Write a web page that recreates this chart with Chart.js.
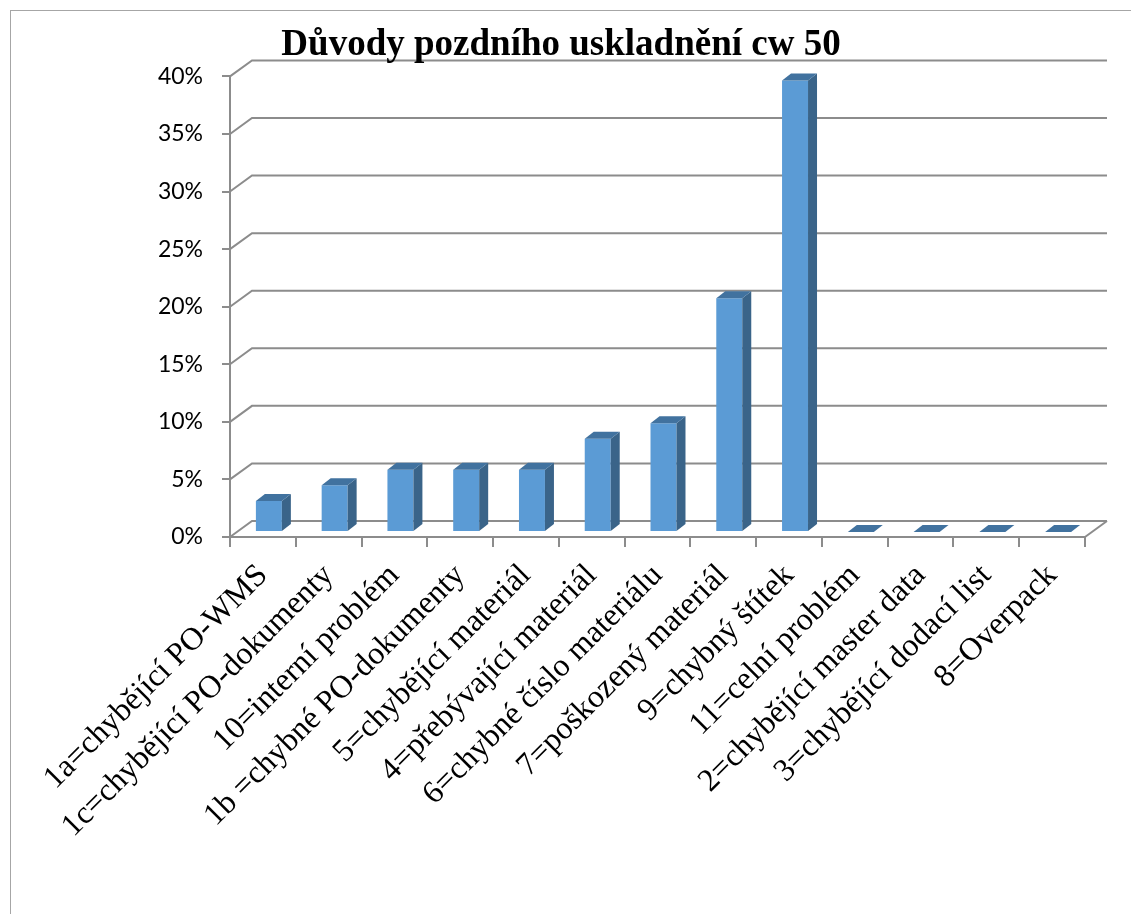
<!DOCTYPE html>
<html><head><meta charset="utf-8">
<script src="https://cdn.jsdelivr.net/npm/chart.js@4/dist/chart.umd.min.js"></script>
<style>
html,body{margin:0;padding:0;background:#fff;overflow:hidden;}
#wrap{position:relative;width:1131px;height:914px;}
#frame{position:absolute;left:10px;top:10px;width:1200px;height:1000px;border:1.5px solid #a6a6a6;}
canvas{position:absolute;left:0;top:0;}
</style></head><body>
<div id="wrap"><div id="frame"></div><canvas id="c" width="1131" height="914"></canvas></div>
<script>
const chartTitle = 'Důvody pozdního uskladnění cw 50';
const categories = [
  '1a=chybějící PO-WMS',
  '1c=chybějící PO-dokumenty',
  '10=interní problém',
  '1b =chybné PO-dokumenty',
  '5=chybějící materiál',
  '4=přebývající materiál',
  '6=chybné číslo materiálu',
  '7=poškozený materiál',
  '9=chybný štítek',
  '11=celní problém',
  '2=chybějící master data',
  '3=chybějící dodací list',
  '8=Overpack'
];
const shareValues = [2.7, 4.05, 5.4, 5.4, 5.4, 8.1, 9.45, 20.3, 39.2, 0, 0, 0, 0];
const yTickLabels = ['0%', '5%', '10%', '15%', '20%', '25%', '30%', '35%', '40%'];

const WALL = {dx: 22, dy: -16};
const SHIFT = {dx: 6, dy: -5};
const DEPTH = {dx: 9, dy: -7};

const threeD = {
  id: 'threeD',
  beforeDraw(chart) {
    const {ctx, chartArea: a, scales: {y}} = chart;
    ctx.save();
    ctx.strokeStyle = '#8c8c8c';
    ctx.lineWidth = 2;
    y.ticks.forEach(t => {
      const py = y.getPixelForValue(t.value);
      ctx.beginPath();
      ctx.moveTo(a.left, py);
      ctx.lineTo(a.left + WALL.dx, py + WALL.dy);
      ctx.lineTo(a.right + WALL.dx, py + WALL.dy);
      ctx.stroke();
    });
    ctx.beginPath();
    ctx.moveTo(a.right, a.bottom);
    ctx.lineTo(a.right + WALL.dx, a.bottom + WALL.dy);
    ctx.stroke();
    ctx.restore();
  },
  beforeDatasetsDraw(chart) {
    chart.ctx.save();
    chart.ctx.translate(SHIFT.dx, SHIFT.dy);
  },
  afterDatasetsDraw(chart) {
    const ctx = chart.ctx;
    const meta = chart.getDatasetMeta(0);
    meta.data.forEach(bar => {
      const {x, y, base, width} = bar.getProps(['x', 'y', 'base', 'width'], true);
      const l = x - width / 2, r = x + width / 2;
      ctx.fillStyle = '#3a6489';
      ctx.beginPath();
      ctx.moveTo(r, y); ctx.lineTo(r + DEPTH.dx, y + DEPTH.dy);
      ctx.lineTo(r + DEPTH.dx, base + DEPTH.dy); ctx.lineTo(r, base);
      ctx.closePath(); ctx.fill();
      ctx.fillStyle = '#41729f';
      ctx.beginPath();
      ctx.moveTo(l, y); ctx.lineTo(l + DEPTH.dx, y + DEPTH.dy);
      ctx.lineTo(r + DEPTH.dx, y + DEPTH.dy); ctx.lineTo(r, y);
      ctx.closePath(); ctx.fill();
    });
    ctx.restore();
  }
};

new Chart(document.getElementById('c'), {
  type: 'bar',
  data: {
    labels: categories,
    datasets: [{
      data: shareValues,
      backgroundColor: '#5b9bd5',
      borderWidth: 0,
      barPercentage: 0.395,
      categoryPercentage: 1.0
    }]
  },
  plugins: [threeD],
  options: {
    responsive: false,
    animation: false,
    layout: {padding: {left: 37, right: 46, top: 0, bottom: 0}},
    plugins: {
      legend: {display: false},
      tooltip: {enabled: false},
      title: {
        display: true,
        text: chartTitle,
        color: '#000',
        font: {family: 'Liberation Serif', size: 37, weight: 'bold', lineHeight: 1.2},
        padding: {top: 23, bottom: 9}
      }
    },
    scales: {
      x: {
        type: 'category',
        offset: true,
        afterFit(s) { s.height = 377; },
        grid: {display: true, drawOnChartArea: false, drawTicks: true, tickLength: 10, color: '#8c8c8c', lineWidth: 2, offset: true},
        border: {display: true, color: '#8c8c8c', width: 2},
        ticks: {
          autoSkip: false, maxRotation: 45, minRotation: 45, padding: 10,
          color: '#000',
          font: {family: 'Liberation Serif', size: 32}
        }
      },
      y: {
        min: 0, max: 40,
        afterFit(s) { s.width = 193; },
        grid: {display: true, drawOnChartArea: false, drawTicks: true, tickLength: 8, color: '#8c8c8c', lineWidth: 2},
        border: {display: true, color: '#8c8c8c', width: 2},
        ticks: {
          stepSize: 5, padding: 19, color: '#000',
          font: {family: 'Lato', size: 23},
          callback: (v, i) => yTickLabels[i]
        }
      }
    }
  }
});
</script>
</body></html>
